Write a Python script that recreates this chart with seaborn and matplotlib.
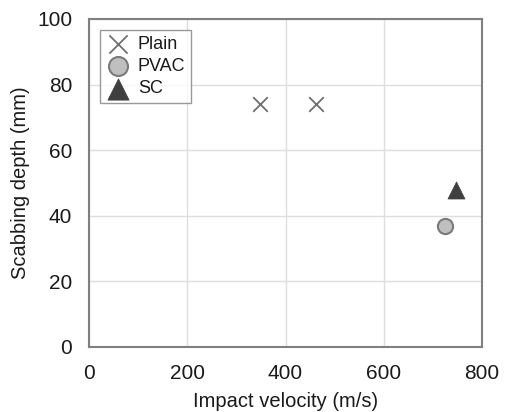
import matplotlib
matplotlib.use("Agg")
import matplotlib.pyplot as plt
import seaborn as sns
import pandas as pd

series = ["Plain", "Plain", "PVAC", "SC"]
velocity = [348, 462, 725, 747]
depth = [74, 74, 37, 48]
xticks = [0, 200, 400, 600, 800]
yticks = [0, 20, 40, 60, 80, 100]

df = pd.DataFrame({"Impact velocity (m/s)": velocity,
                   "Scabbing depth (mm)": depth,
                   "Series": series})

sns.set_style("white")
plt.rcParams["font.family"] = ["Liberation Sans", "DejaVu Sans"]

fig = plt.figure(figsize=(5.08, 4.12), dpi=100)
ax = fig.add_axes([89/508, 1-347/412, 393/508, 328/412])

styles = {
    "Plain": dict(marker="x", s=110, color="#6f6f6f", linewidth=1.3),
    "PVAC": dict(marker="o", s=120, color="#bfbfbf", edgecolor="#7a7a7a", linewidth=1.5),
    "SC": dict(marker="^", s=150, color="#3f3f3f", edgecolor="#3f3f3f", linewidth=0.5),
}
for name in ["Plain", "PVAC", "SC"]:
    sub = df[df["Series"] == name]
    sns.scatterplot(data=sub, x="Impact velocity (m/s)", y="Scabbing depth (mm)",
                    ax=ax, label=name, zorder=3, **styles[name])

ax.set_xlim(0, 800)
ax.set_ylim(0, 100)
ax.set_xticks(xticks)
ax.set_yticks(yticks)
ax.grid(True, color="#dedede", linewidth=1.0)
ax.set_axisbelow(True)
for sp in ax.spines.values():
    sp.set_color("#808080")
    sp.set_linewidth(1.5)
ax.tick_params(axis="both", direction="in", length=5, width=1, color="#808080",
               labelsize=15, labelcolor="#1a1a1a")
ax.tick_params(axis="y", pad=12)
ax.tick_params(axis="x", pad=12)
ax.set_xlabel("Impact velocity (m/s)", fontsize=14.5, labelpad=7, color="#1a1a1a")
ax.set_ylabel("Scabbing depth (mm)", fontsize=14.5, labelpad=5, color="#1a1a1a")

leg = ax.legend(loc="upper left", bbox_to_anchor=(0.028, 0.966), fontsize=13,
                frameon=True, fancybox=False, edgecolor="#808080",
                handletextpad=0.4, borderpad=0.3, labelspacing=0.3,
                handlelength=1.4, borderaxespad=0.0, markerscale=1.25)
leg.get_frame().set_linewidth(1.0)
for t in leg.get_texts():
    t.set_color("#1a1a1a")

fig.savefig("out.png", dpi=100)
